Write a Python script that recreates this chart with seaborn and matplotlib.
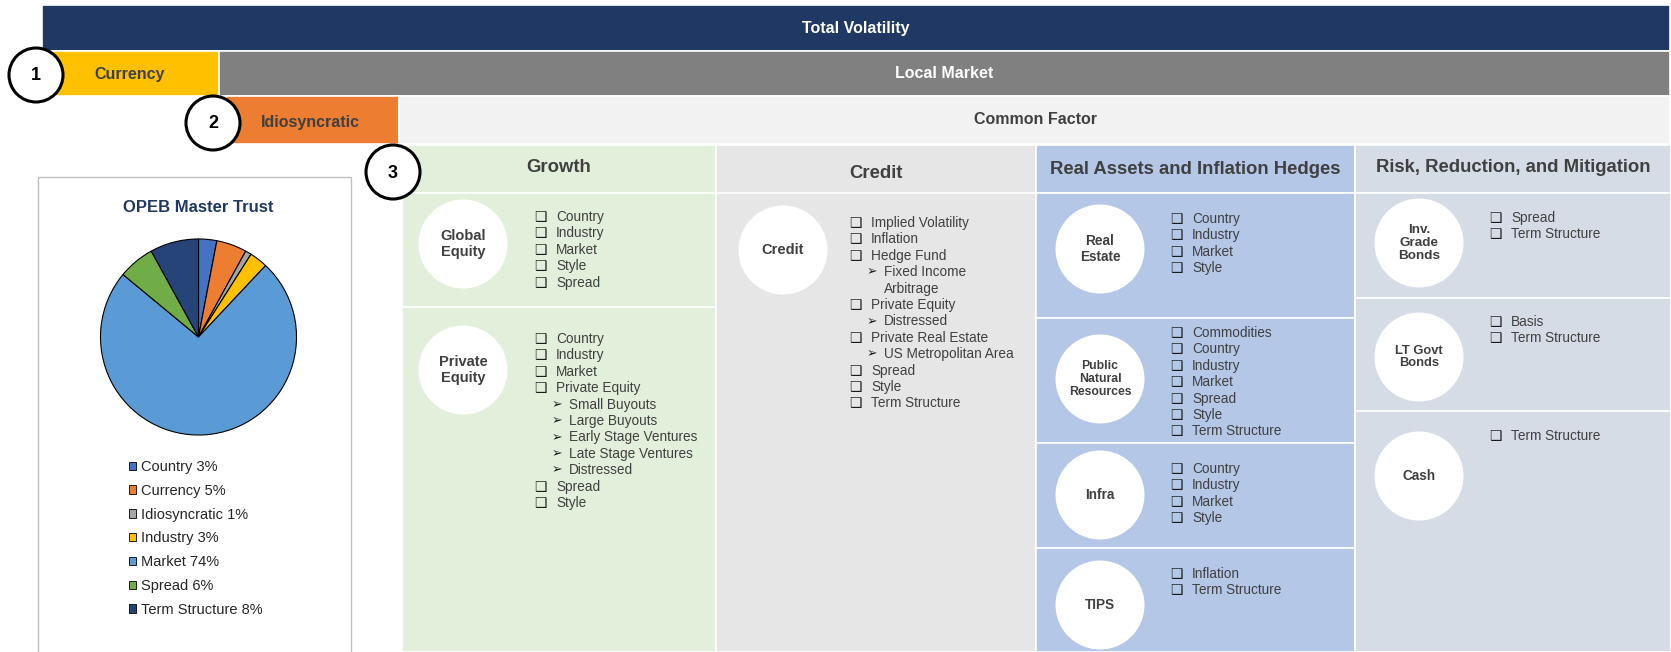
import matplotlib
matplotlib.use("Agg")
import matplotlib.pyplot as plt
import matplotlib.patches as mpatches
import seaborn as sns

sns.set_theme(style="white")
plt.rcParams['font.family'] = ['Liberation Sans', 'DejaVu Sans']

# ---------------- data ----------------
pie_labels = ['Country', 'Currency', 'Idiosyncratic', 'Industry', 'Market', 'Spread', 'Term Structure']
pie_values = [3, 5, 1, 3, 74, 6, 8]
pie_colors = ['#4472c4', '#ed7d31', '#a5a5a5', '#ffc000', '#5b9bd5', '#70ad47', '#264478']

column_names = ['Growth', 'Credit', 'Real Assets and Inflation Hedges', 'Risk, Reduction, and Mitigation']
column_colors = ['#e2efda', '#e7e6e6', '#b4c7e7', '#d6dce5']

growth_assets = ['Global\nEquity', 'Private\nEquity']
credit_assets = ['Credit']
real_assets = ['Real\nEstate', 'Public\nNatural\nResources', 'Infra', 'TIPS']
risk_assets = ['Inv.\nGrade\nBonds', 'LT Govt\nBonds', 'Cash']

# 0 = box bullet, 1 = arrow sub-bullet, 2 = continuation of sub-bullet
global_equity_factors = [(0, 'Country'), (0, 'Industry'), (0, 'Market'), (0, 'Style'), (0, 'Spread')]
private_equity_factors = [(0, 'Country'), (0, 'Industry'), (0, 'Market'), (0, 'Private Equity'),
                          (1, 'Small Buyouts'), (1, 'Large Buyouts'), (1, 'Early Stage Ventures'),
                          (1, 'Late Stage Ventures'), (1, 'Distressed'), (0, 'Spread'), (0, 'Style')]
credit_factors = [(0, 'Implied Volatility'), (0, 'Inflation'), (0, 'Hedge Fund'), (1, 'Fixed Income'),
                  (2, 'Arbitrage'), (0, 'Private Equity'), (1, 'Distressed'), (0, 'Private Real Estate'),
                  (1, 'US Metropolitan Area'), (0, 'Spread'), (0, 'Style'), (0, 'Term Structure')]
real_estate_factors = [(0, 'Country'), (0, 'Industry'), (0, 'Market'), (0, 'Style')]
pnr_factors = [(0, 'Commodities'), (0, 'Country'), (0, 'Industry'), (0, 'Market'), (0, 'Spread'),
               (0, 'Style'), (0, 'Term Structure')]
infra_factors = [(0, 'Country'), (0, 'Industry'), (0, 'Market'), (0, 'Style')]
tips_factors = [(0, 'Inflation'), (0, 'Term Structure')]
igb_factors = [(0, 'Spread'), (0, 'Term Structure')]
ltgb_factors = [(0, 'Basis'), (0, 'Term Structure')]
cash_factors = [(0, 'Term Structure')]

# ---------------- layout ----------------
W, H = 1671, 652
dark = '#404040'
fig = plt.figure(figsize=(W / 100, H / 100), dpi=100)
ax = fig.add_axes([0, 0, 1, 1])
ax.set_xlim(0, W)
ax.set_ylim(H, 0)
ax.axis('off')


def box(x0, y0, x1, y1, color, ec='white', lw=1.2, z=1):
    ax.add_patch(mpatches.Rectangle((x0, y0), x1 - x0, y1 - y0, facecolor=color,
                                    edgecolor=ec, linewidth=lw, zorder=z))


# top bars
box(42, 5, 1670, 51, '#203864')
ax.text(856, 28, 'Total Volatility', color='white', fontsize=11.5, fontweight='bold', ha='center', va='center')
box(53, 51, 219, 96, '#ffc000')
box(219, 51, 1670, 96, '#808080')
ax.text(130, 74, 'Currency', color=dark, fontsize=11.5, fontweight='bold', ha='center', va='center')
ax.text(944, 74, 'Local Market', color='white', fontsize=11.5, fontweight='bold', ha='center', va='center')
box(226, 96, 399, 144, '#ed7d31')
box(399, 96, 1670, 144, '#f2f2f2')
ax.text(310, 122, 'Idiosyncratic', color=dark, fontsize=11.5, fontweight='bold', ha='center', va='center')
ax.text(1035, 120, 'Common Factor', color=dark, fontsize=11.5, fontweight='bold', ha='center', va='center')

# numbered circles
for num, (cx, cy) in zip(['1', '2', '3'], [(36, 75), (213, 123), (393, 172)]):
    ax.add_patch(mpatches.Circle((cx, cy), 27, facecolor='white', edgecolor='black', linewidth=2.2, zorder=6))
    ax.text(cx, cy + 1, num, fontsize=13, fontweight='bold', ha='center', va='center', color='black', zorder=7)

# columns
col_x = [402, 716, 1036, 1355, 1671]
header_y = [168, 173, 169, 168]
for i, name in enumerate(column_names):
    box(col_x[i], 145, col_x[i + 1], 193, column_colors[i])
    ax.text((col_x[i] + col_x[i + 1]) / 2, header_y[i], name, color=dark, fontsize=13.3,
            fontweight='bold', ha='center', va='center')

col_cells = [
    (growth_assets, [193, 307, 652], [244, 370], [global_equity_factors, private_equity_factors],
     [217, 339], 463, 534, [10.5, 10.5]),
    (credit_assets, [193, 652], [250], [credit_factors], [223], 783, 849, [10.5]),
    (real_assets, [193, 318, 443, 548, 652], [249, 379, 495, 605],
     [real_estate_factors, pnr_factors, infra_factors, tips_factors], [219, 333, 469, 574], 1100, 1170,
     [9.8, 8.8, 9.8, 9.8]),
    (risk_assets, [193, 298, 411, 652], [243, 357, 476], [igb_factors, ltgb_factors, cash_factors],
     [218, 322, 436], 1419, 1489, [9.7, 9.3, 9.8]),
]
step = 16.4
for ci, (assets, edges, circ_y, factors, first_y, circ_x, glyph_x, fsz) in enumerate(col_cells):
    for j, asset in enumerate(assets):
        box(col_x[ci], edges[j], col_x[ci + 1], edges[j + 1], column_colors[ci])
        ax.add_patch(mpatches.Circle((circ_x, circ_y[j]), 44.5, facecolor='white', edgecolor='none', zorder=3))
        ax.text(circ_x, circ_y[j], asset, color=dark, fontsize=fsz[j], fontweight='bold',
                ha='center', va='center', linespacing=1.1, zorder=4)
        for k, (lvl, txt) in enumerate(factors[j]):
            y = first_y[j] + k * step
            if lvl == 0:
                ax.text(glyph_x, y, '\u2751', fontsize=10, color='#1a1a1a', ha='left', va='center',
                        family=['DejaVu Sans'], zorder=4)
                ax.text(glyph_x + 22, y, txt, fontsize=9.8, color=dark, ha='left', va='center', zorder=4)
            else:
                if lvl == 1:
                    ax.text(glyph_x + 18, y, '\u27a2', fontsize=9, color='#1a1a1a', ha='left', va='center',
                            family=['DejaVu Sans'], zorder=4)
                ax.text(glyph_x + 35, y, txt, fontsize=9.8, color=dark, ha='left', va='center', zorder=4)

# pie panel
box(38, 177, 351, 660, 'white', ec='#bfbfbf', lw=1.0, z=1)
ax.text(198, 208, 'OPEB Master Trust', color='#1f3864', fontsize=12, fontweight='bold',
        ha='center', va='center')

pcx, pcy, pr = 198.5, 337, 99
pax = fig.add_axes([(pcx - pr) / W, 1 - (pcy + pr) / H, 2 * pr / W, 2 * pr / H])
wedges, _ = pax.pie(pie_values, colors=pie_colors, startangle=90, counterclock=False, radius=1,
                    wedgeprops=dict(edgecolor='black', linewidth=0.8))
pax.set_xlim(-1.01, 1.01)
pax.set_ylim(-1.01, 1.01)
pax.set_aspect('equal')
pax.axis('off')

legend_labels = [f'{lab} {v}%' for lab, v in zip(pie_labels, pie_values)]
leg = pax.legend(wedges, legend_labels, loc='upper left', bbox_to_anchor=(129 / W, 1 - 460 / H),
                 bbox_transform=fig.transFigure, frameon=False, fontsize=10.5, handlelength=0.5,
                 handleheight=0.5, handletextpad=0.35, labelspacing=0.67, borderpad=0, borderaxespad=0)
for t in leg.get_texts():
    t.set_color('#262626')
for h in leg.legend_handles:
    h.set_linewidth(0.6)

fig.savefig('out.png', dpi=100)
